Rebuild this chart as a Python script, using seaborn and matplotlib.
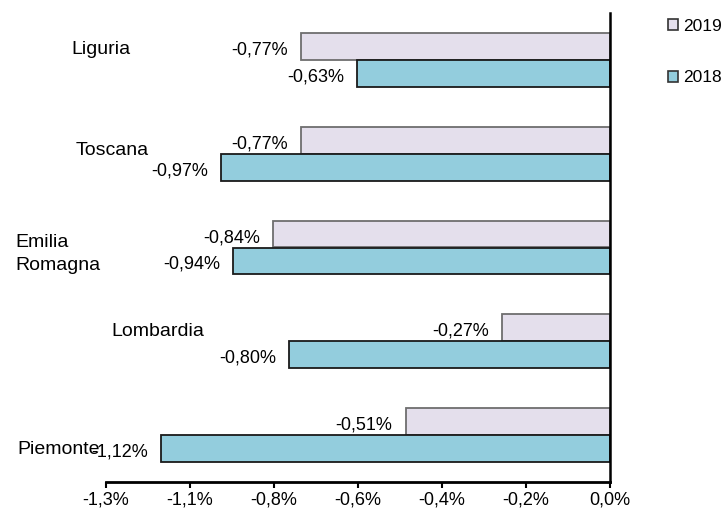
import matplotlib
matplotlib.use("Agg")
import matplotlib.pyplot as plt
from matplotlib.patches import Patch
import seaborn as sns
import pandas as pd
import numpy as np

# ---- data ----
regions = ["Liguria", "Toscana", "Emilia Romagna", "Lombardia", "Piemonte"]
region_labels = ["Liguria", "Toscana", "Emilia\nRomagna", "Lombardia", "Piemonte"]
years = ["2019", "2018"]
values_2019 = [-0.77, -0.77, -0.84, -0.27, -0.51]
values_2018 = [-0.63, -0.97, -0.94, -0.80, -1.12]
tick_labels = ["-1,3%", "-1,1%", "-0,8%", "-0,6%", "-0,4%", "-0,2%", "0,0%"]

df = pd.DataFrame({
    "region": regions * 2,
    "year": ["2019"] * len(regions) + ["2018"] * len(regions),
    "value": values_2019 + values_2018,
})

sns.set_theme(style="white")
plt.rcParams["font.family"] = ["Liberation Sans", "DejaVu Sans"]
plt.rcParams["text.color"] = "black"
plt.rcParams["xtick.color"] = "black"

W, H = 724, 514
fig = plt.figure(figsize=(W / 100, H / 100), dpi=100)
ax = fig.add_axes([106 / W, 1 - 482 / H, 504 / W, 469 / H])

fills = {"2019": "#E4DFEC", "2018": "#93CDDD"}
edges = {"2019": "#6E6E6E", "2018": "#1A1A1A"}

sns.barplot(data=df, y="region", x="value", hue="year", hue_order=years,
            order=regions, orient="h", palette=fills, width=0.574,
            dodge=True, legend=False, ax=ax, saturation=1)

# edge colours per series, and value labels
for yr, cont, vals in zip(years, ax.containers, [values_2019, values_2018]):
    for patch, v in zip(cont.patches, vals):
        patch.set_edgecolor(edges[yr])
        patch.set_linewidth(1.3)
        yc = patch.get_y() + patch.get_height() / 2
        ax.annotate(f"{v:.2f}%".replace(".", ","), xy=(v, yc),
                    xytext=(-13, -3.5), textcoords="offset pixels",
                    ha="right", va="center", fontsize=13, color="black")

xmin = -1.257
ax.set_xlim(xmin, 0)
ax.set_ylim(len(regions) - 0.5, -0.5)
ax.set_xticks(np.linspace(xmin, 0, len(tick_labels)))
ax.set_xticklabels(tick_labels, fontsize=13, color="black")
ax.set_yticks([])
ax.set_ylabel("")
ax.set_xlabel("")

for s in ["left", "top"]:
    ax.spines[s].set_visible(False)
ax.spines["bottom"].set_color("black")
ax.spines["bottom"].set_linewidth(2)
ax.spines["right"].set_color("black")
ax.spines["right"].set_linewidth(1.8)
ax.tick_params(axis="x", direction="out", length=4, width=1.5, color="black",
               pad=3, bottom=True)

# category labels (placed like the source, left of the bars)
cat_pos = [(101, 50, "center"), (112, 150, "center"), (15, 254, "left"),
           (158, 331, "center"), (17, 449, "left")]
for lab, (px, py, ha) in zip(region_labels, cat_pos):
    fig.text(px / W, 1 - py / H, lab, ha=ha, va="center", fontsize=14,
             linespacing=1.45, multialignment="left", color="black")

handles = [Patch(facecolor=fills[y], edgecolor="#333333", linewidth=1.2)
           for y in years]
leg = fig.legend(handles, years, loc="upper left",
                 bbox_to_anchor=(668 / W, 1 - 19 / H), frameon=False,
                 fontsize=12.5, handlelength=0.6, handleheight=0.6,
                 handletextpad=0.25, labelspacing=2.1, borderpad=0,
                 borderaxespad=0)
for t in leg.get_texts():
    t.set_color("black")

fig.savefig("out.png", dpi=100)
